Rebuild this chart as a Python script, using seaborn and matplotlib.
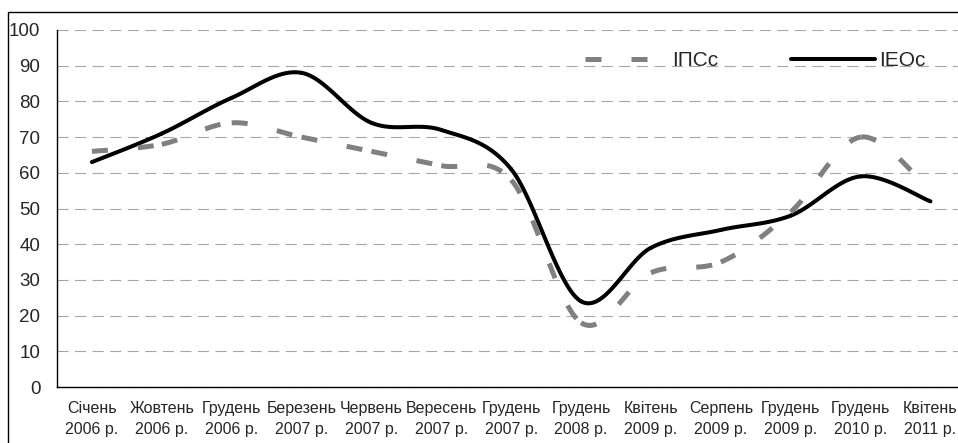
import numpy as np
import pandas as pd
import matplotlib
matplotlib.use("Agg")
import matplotlib.pyplot as plt
from matplotlib.lines import Line2D
from matplotlib.patches import Rectangle
import seaborn as sns

# data
periods = ["Січень\n2006 р.", "Жовтень\n2006 р.", "Грудень\n2006 р.",
           "Березень\n2007 р.", "Червень\n2007 р.", "Вересень\n2007 р.",
           "Грудень\n2007 р.", "Грудень\n2008 р.", "Квітень\n2009 р.",
           "Серпень\n2009 р.", "Грудень\n2009 р.", "Грудень\n2010 р.",
           "Квітень\n2011 р."]
ipcs = [66, 68, 74, 70, 66, 62, 58, 18, 32, 35, 49, 70, 55]
ieos = [63, 71, 81, 88, 74, 72, 61, 24, 39, 44, 48, 59, 52]
series_names = ["ІПСс", "ІЕОс"]

sns.set_style("white")
plt.rcParams['font.family'] = ['Liberation Sans', 'DejaVu Sans']


def smooth_segments(vals, n=40):
    # Catmull-Rom pieces between neighbouring points (like a smoothed office chart line)
    P = np.column_stack([np.arange(len(vals), dtype=float), np.asarray(vals, dtype=float)])
    Pe = np.vstack([P[0], P, P[-1]])
    t = np.linspace(0, 1, n)[:, None]
    h00 = 2 * t**3 - 3 * t**2 + 1
    h10 = t**3 - 2 * t**2 + t
    h01 = -2 * t**3 + 3 * t**2
    h11 = t**3 - t**2
    segs = []
    for i in range(len(P) - 1):
        m0 = (Pe[i + 2] - Pe[i]) / 2
        m1 = (Pe[i + 3] - Pe[i + 1]) / 2
        pts = h00 * P[i] + h10 * m0 + h01 * P[i + 1] + h11 * m1
        segs.append(pd.DataFrame({"x": pts[:, 0], "y": pts[:, 1]}))
    return segs


fig = plt.figure(figsize=(9.58, 4.43), dpi=100)
ax = fig.add_axes([57 / 958, 56 / 443, (965.4 - 57) / 958, 357 / 443])

gray_dash = (0, (3.2, 6))
for seg in smooth_segments(ieos):
    sns.lineplot(data=seg, x="x", y="y", ax=ax, color="black", lw=2.9,
                 sort=False, estimator=None, solid_capstyle="round", zorder=3)
for seg in smooth_segments(ipcs):
    sns.lineplot(data=seg, x="x", y="y", ax=ax, color="#808080", lw=3.6,
                 sort=False, estimator=None, linestyle=gray_dash,
                 dash_capstyle="butt", zorder=4)

ax.set_xlim(-0.5, len(periods) - 0.5)
ax.set_ylim(0, 100)
ax.set_xlabel("")
ax.set_ylabel("")

ax.set_xticks(np.arange(-0.5, len(periods), 1))
ax.set_xticklabels([])
ax.set_xticks(np.arange(len(periods)), minor=True)
ax.set_xticklabels(periods, minor=True, fontsize=11.5, linespacing=1.5)
ax.tick_params(axis="x", which="major", length=4.5, width=1, direction="out", color="black")
ax.tick_params(axis="x", which="minor", length=0, pad=10)

ax.set_yticks(range(0, 101, 10))
ax.tick_params(axis="y", length=5, width=1, direction="out", pad=7, labelsize=13.5, color="black")

ax.grid(axis="y", color="#a6a6a6", lw=0.8, linestyle=(0, (10, 5.8)))
ax.grid(axis="x", visible=False)
for s in ["top", "right"]:
    ax.spines[s].set_visible(False)
for s in ["left", "bottom"]:
    ax.spines[s].set_color("black")
    ax.spines[s].set_linewidth(1)

handles = [Line2D([], [], color="#808080", lw=3.6, linestyle=gray_dash, dash_capstyle="butt"),
           Line2D([], [], color="black", lw=2.9, solid_capstyle="round")]
fig.legend(handles, series_names, loc="center", bbox_to_anchor=(755 / 958, 1 - 61 / 443),
           ncol=2, frameon=False, fontsize=15, handlelength=4.0, handletextpad=0.2,
           columnspacing=3.5, borderpad=0, borderaxespad=0)

fig.add_artist(Rectangle((8 / 958, -0.5), 2, 0.5 + (1 - 12 / 443), transform=fig.transFigure,
                         fill=False, lw=1, ec="black"))

fig.savefig("out.png", dpi=100)
